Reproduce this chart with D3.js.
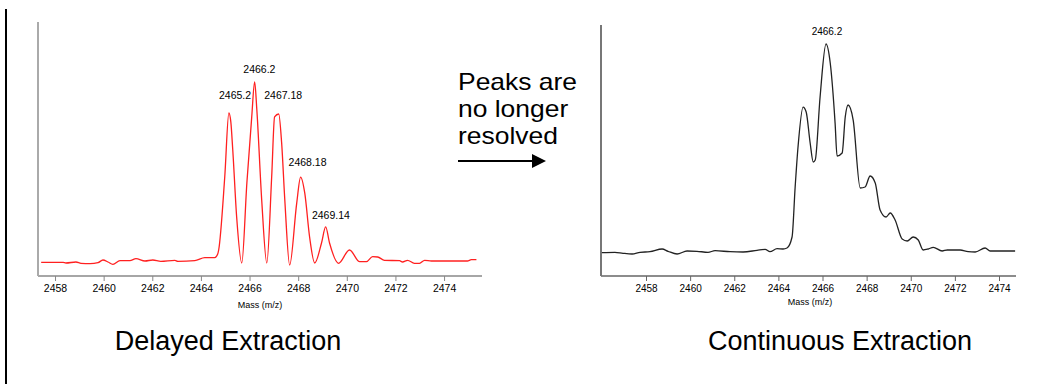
<!DOCTYPE html>
<html>
<head>
    <title>Delayed vs Continuous Extraction</title>
    <script src="https://d3js.org/d3.v7.min.js"></script>
    <style>
        body { margin: 0; background: #fff; }
        svg { display: block; }
        .tick-label { font-family: Arial, "Liberation Sans", sans-serif; font-size: 10.5px; fill: #000; }
        .axis-title { font-family: Arial, "Liberation Sans", sans-serif; font-size: 9px; fill: #000; }
        .peak-label { font-family: Arial, "Liberation Sans", sans-serif; font-size: 10.5px; fill: #000; }
        .big-text { font-family: Arial, "Liberation Sans", sans-serif; fill: #000; }
    </style>
</head>
<body>
    <svg width="1049" height="384"></svg>

    <script>
        // Delayed extraction spectrum (mass, relative intensity)
        const leftMass = [2457.43, 2458.33, 2458.45, 2458.86, 2459.07, 2459.44, 2459.77, 2459.97, 2460.18, 2460.38,
            2460.67, 2461.08, 2461.33, 2461.70, 2462.02, 2462.35, 2462.93, 2463.05, 2463.75, 2464.16,
            2464.57, 2464.69, 2464.73, 2464.98, 2465.15, 2465.23, 2465.31, 2465.47, 2465.68, 2465.89,
            2466.09, 2466.21, 2466.30, 2466.50, 2466.71, 2466.91, 2467.03, 2467.20, 2467.32, 2467.45,
            2467.65, 2467.94, 2468.10, 2468.27, 2468.47, 2468.68, 2468.96, 2469.13, 2469.29, 2469.66,
            2470.11, 2470.53, 2470.81, 2471.06, 2471.27, 2471.55, 2472.17, 2472.29, 2472.50, 2472.78,
            2472.99, 2473.20, 2473.48, 2474.96, 2475.12, 2475.33];
        const leftIntensity = [7.06, 7.06, 6.70, 7.22, 6.55, 6.34, 6.86, 8.25, 7.22, 6.03,
            7.89, 7.89, 8.92, 7.73, 8.25, 7.58, 8.09, 7.58, 7.89, 9.43,
            9.43, 11.3, 13.4, 51.0, 84.0, 79.4, 64.9, 30.4, 6.70, 47.9,
            82.0, 100, 85.6, 39.2, 6.70, 51.0, 82.0, 83.5, 68.6, 39.2,
            5.67, 37.6, 51.0, 42.8, 20.1, 6.70, 17.0, 25.3, 17.0, 6.55,
            13.4, 7.37, 7.37, 9.95, 9.79, 8.09, 7.89, 7.22, 8.09, 6.55,
            6.55, 8.09, 7.73, 7.73, 8.40, 8.40];

        // Continuous extraction spectrum (mass, relative intensity)
        const rightMass = [2456.00, 2456.59, 2456.96, 2457.37, 2457.73, 2458.18, 2458.73, 2459.00, 2459.41, 2459.86,
            2460.31, 2460.81, 2461.13, 2461.81, 2462.40, 2463.03, 2463.40, 2463.62, 2463.94, 2464.21,
            2464.39, 2464.62, 2464.76, 2464.89, 2465.12, 2465.26, 2465.44, 2465.58, 2465.67, 2465.89,
            2466.16, 2466.35, 2466.57, 2466.66, 2466.89, 2467.03, 2467.16, 2467.39, 2467.71, 2467.93,
            2468.16, 2468.39, 2468.61, 2468.88, 2469.07, 2469.29, 2469.61, 2469.84, 2470.11, 2470.34,
            2470.56, 2470.79, 2471.02, 2471.42, 2471.65, 2472.24, 2472.60, 2472.92, 2473.37, 2473.60,
            2474.73];
        const rightIntensity = [10.04, 10.22, 9.78, 9.48, 10.22, 10.47, 11.64, 10.65, 9.48, 10.78,
            10.65, 10.22, 10.91, 10.47, 10.34, 11.08, 11.51, 10.47, 11.77, 11.64,
            12.07, 16.81, 38.36, 55.60, 72.84, 70.69, 57.33, 49.14, 50.0, 77.16,
            100, 91.81, 65.95, 51.72, 53.02, 68.53, 73.71, 67.24, 37.93, 38.36,
            43.10, 40.09, 28.45, 25.43, 27.16, 24.14, 15.95, 15.09, 16.81, 15.52,
            11.21, 11.64, 12.37, 10.78, 11.21, 11.21, 10.47, 10.34, 12.07, 10.78,
            10.78];

        const massTicks = [2458, 2460, 2462, 2464, 2466, 2468, 2470, 2472, 2474];

        const leftPeakLabels = ["2465.2", "2466.2", "2467.18", "2468.18", "2469.14"];
        const leftPeakLabelHeights = [93.3, 106.7, 93.3, 58.8, 31.4];
        const rightPeakLabels = ["2466.2"];
        const rightPeakLabelHeights = [105.2];

        const noteLines = ["Peaks are", "no longer", "resolved"];

        const svg = d3.select("svg");

        // Frame line on the left side
        svg.append("line")
            .attr("x1", 6).attr("x2", 6)
            .attr("y1", 9).attr("y2", 384)
            .attr("stroke", "#000")
            .attr("stroke-width", 2);

        function drawSpectrum(opt) {
            const x = d3.scaleLinear().domain(opt.xDomain).range([opt.left, opt.right]);
            const y = d3.scaleLinear().domain([0, opt.yMax]).range([opt.bottom, opt.top]);
            const g = svg.append("g");

            // x axis
            const xAxis = d3.axisBottom(x)
                .tickValues(massTicks)
                .tickSize(5)
                .tickPadding(4)
                .tickFormat(d3.format("d"));
            const ax = g.append("g")
                .attr("transform", `translate(0,${opt.bottom})`)
                .call(xAxis);
            ax.select(".domain").attr("stroke", opt.axisColor).attr("stroke-width", 1.5)
                .attr("d", `M${opt.left},0H${opt.right}`);
            ax.selectAll(".tick line").attr("stroke", opt.axisColor);
            ax.selectAll(".tick text")
                .attr("class", "tick-label")
                .style("font-size", opt.tickFont);

            // y axis (line only)
            g.append("line")
                .attr("x1", opt.left).attr("x2", opt.left)
                .attr("y1", opt.top).attr("y2", opt.bottom)
                .attr("stroke", opt.yAxisColor)
                .attr("stroke-width", 2);

            g.append("text")
                .attr("class", "axis-title")
                .attr("x", opt.titleX)
                .attr("y", opt.titleY)
                .attr("text-anchor", "middle")
                .text("Mass (m/z)");

            // spectrum trace
            const line = d3.line()
                .x((d, i) => x(opt.mass[i]))
                .y(d => y(d))
                .curve(d3.curveMonotoneX);
            g.append("path")
                .datum(opt.intensity)
                .attr("fill", "none")
                .attr("stroke", opt.color)
                .attr("stroke-width", 1.3)
                .attr("stroke-linejoin", "round")
                .attr("d", line);

            // peak labels
            g.selectAll(".peak-label")
                .data(opt.labels)
                .enter().append("text")
                .attr("class", "peak-label")
                .style("font-size", opt.labelFont)
                .attr("x", d => x(+d) + opt.labelDx)
                .attr("y", (d, i) => y(opt.labelHeights[i]))
                .attr("text-anchor", "middle")
                .attr("dominant-baseline", "central")
                .text(d => d);
        }

        drawSpectrum({
            mass: leftMass, intensity: leftIntensity,
            xDomain: [2457.3, 2475.56], yMax: 130.9,
            left: 38, right: 482, top: 22, bottom: 276,
            color: "#ff2020", axisColor: "#888", yAxisColor: "#aaa",
            tickFont: "10.5px", labelFont: "10.5px",
            labels: leftPeakLabels, labelHeights: leftPeakLabelHeights, labelDx: 5,
            titleX: 260, titleY: 308
        });

        drawSpectrum({
            mass: rightMass, intensity: rightIntensity,
            xDomain: [2455.96, 2474.77], yMax: 108.2,
            left: 601, right: 1016, top: 25, bottom: 276,
            color: "#222", axisColor: "#666", yAxisColor: "#777",
            tickFont: "10px", labelFont: "10px",
            labels: rightPeakLabels, labelHeights: rightPeakLabelHeights, labelDx: 0,
            titleX: 810, titleY: 305
        });

        // Annotation between the charts (slightly wide glyphs, as in the original)
        svg.append("g")
            .selectAll("text")
            .data(noteLines)
            .enter().append("text")
            .attr("class", "big-text")
            .style("font-size", "23px")
            .attr("transform", (d, i) => `translate(458,${90 + i * 27}) scale(1.15,1)`)
            .text(d => d);

        svg.append("defs").append("marker")
            .attr("id", "arrow")
            .attr("viewBox", "0 0 10 10")
            .attr("refX", 0).attr("refY", 5)
            .attr("markerWidth", 7).attr("markerHeight", 7)
            .attr("markerUnits", "strokeWidth")
            .attr("orient", "auto")
            .append("path")
            .attr("d", "M0,0L10,5L0,10Z")
            .attr("fill", "#000");

        svg.append("line")
            .attr("x1", 458).attr("x2", 532)
            .attr("y1", 161).attr("y2", 161)
            .attr("stroke", "#000")
            .attr("stroke-width", 2)
            .attr("marker-end", "url(#arrow)");

        // Captions
        svg.append("text").attr("class", "big-text").style("font-size", "27px")
            .attr("x", 228).attr("y", 350).attr("text-anchor", "middle")
            .text("Delayed Extraction");
        svg.append("text").attr("class", "big-text").style("font-size", "27px")
            .attr("x", 840).attr("y", 350).attr("text-anchor", "middle")
            .text("Continuous Extraction");
    </script>
</body>
</html>
